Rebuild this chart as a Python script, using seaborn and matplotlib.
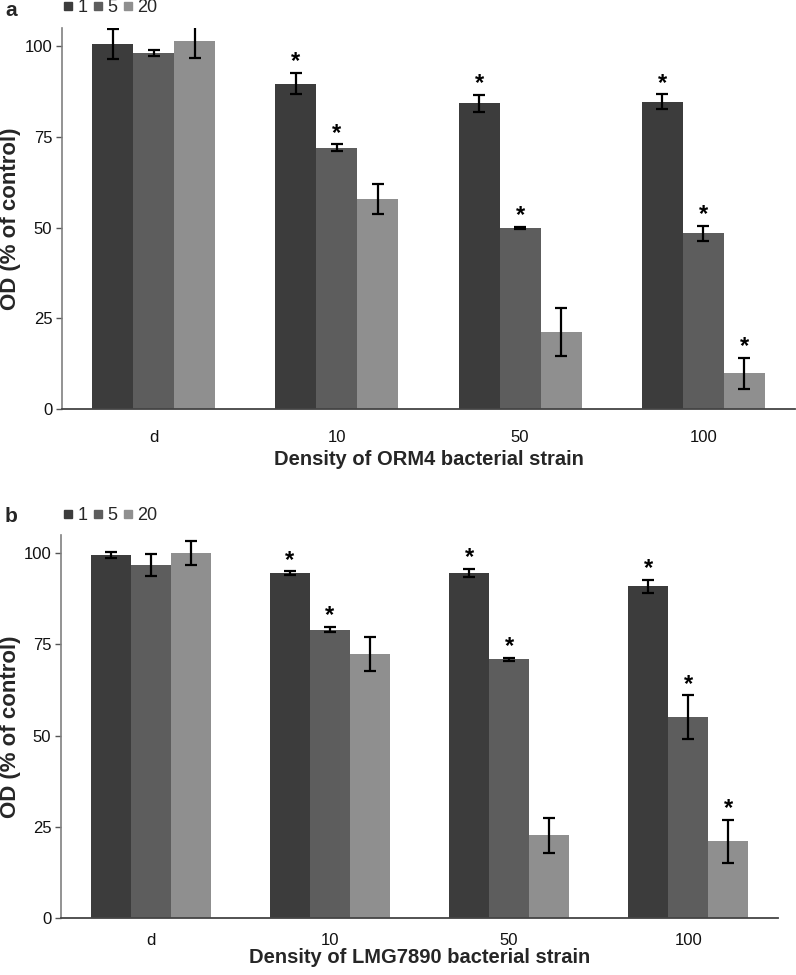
import numpy as np
import pandas as pd
import matplotlib
matplotlib.use("Agg")
import matplotlib.pyplot as plt
import seaborn as sns
from matplotlib.lines import Line2D

# ---- data ----
categories = ["d", "10", "50", "100"]
hue_levels = ["1", "5", "20"]

a_means = {"1": [100.5, 89.7, 84.2, 84.7],
           "5": [98.2, 72.0, 49.9, 48.4],
           "20": [101.5, 57.9, 21.2, 9.8]}
a_errs = {"1": [4.1, 3.0, 2.4, 2.0],
          "5": [0.8, 0.9, 0.3, 2.0],
          "20": [4.8, 4.1, 6.5, 4.3]}
a_sig = {"1": [False, True, True, True],
         "5": [False, True, True, True],
         "20": [False, False, False, True]}

b_means = {"1": [99.5, 94.5, 94.6, 90.9],
           "5": [96.8, 79.0, 70.9, 55.0],
           "20": [100.0, 72.3, 22.7, 21.0]}
b_errs = {"1": [0.8, 0.5, 1.1, 1.7],
          "5": [3.0, 0.7, 0.5, 6.0],
          "20": [3.3, 4.7, 4.8, 5.9]}
b_sig = {"1": [False, True, True, True],
         "5": [False, True, True, True],
         "20": [False, False, False, True]}

colors = ["#3c3c3c", "#5d5d5d", "#8f8f8f"]
yticks = [0, 25, 50, 75, 100]

sns.set_theme(style="white")
plt.rcParams["font.family"] = ["Liberation Sans", "DejaVu Sans"]

W, H = 796, 975
fig = plt.figure(figsize=(W / 100, H / 100), dpi=100)

panels = [
    dict(means=a_means, errs=a_errs, sig=a_sig, label="a",
         xlabel="Density of ORM4 bacterial strain",
         left=62, right=795, top=28, bottom=409, leg_y=8, lab_y=16,
         tpad=15, lpad=4),
    dict(means=b_means, errs=b_errs, sig=b_sig, label="b",
         xlabel="Density of LMG7890 bacterial strain",
         left=61, right=778, top=535, bottom=918, leg_y=516, lab_y=522,
         tpad=11, lpad=0),
]

for p in panels:
    rect = [p["left"] / W, 1 - p["bottom"] / H,
            (p["right"] - p["left"]) / W, (p["bottom"] - p["top"]) / H]
    ax = fig.add_axes(rect)
    rows = []
    for h in hue_levels:
        for c, m in zip(categories, p["means"][h]):
            rows.append({"cat": c, "hue": h, "val": m})
    df = pd.DataFrame(rows)
    sns.barplot(data=df, x="cat", y="val", hue="hue", order=categories,
                hue_order=hue_levels, palette=colors, width=0.67, gap=0,
                errorbar=None, saturation=1, legend=False, ax=ax,
                edgecolor="none", linewidth=0)
    for hi, (h, cont) in enumerate(zip(hue_levels, ax.containers)):
        for ci, bar in enumerate(cont):
            xc = bar.get_x() + bar.get_width() / 2
            top = bar.get_height()
            e = p["errs"][h][ci]
            ax.errorbar(xc, top, yerr=e, fmt="none", ecolor="black",
                        elinewidth=1.6, capsize=4.5, capthick=1.6, zorder=5)
            if p["sig"][h][ci]:
                ax.text(xc, top + e + 3.1, "*", ha="center", va="center",
                        fontsize=17, fontweight="bold", color="black")
    ax.set_xlim(-0.5, 3.5)
    ax.set_ylim(0, 105)
    ax.set_yticks(yticks)
    ax.set_yticklabels([str(v) for v in yticks], fontsize=12, color="#111111")
    ax.set_xticks(range(len(categories)))
    ax.set_xticklabels(categories, fontsize=12, color="#111111")
    ax.set_xticks([0.5, 1.5, 2.5, 3.5], minor=True)
    ax.tick_params(axis="x", which="major", length=0, pad=p["tpad"])
    ax.tick_params(axis="x", which="minor", length=5, width=1, color="#555555", direction="out")
    ax.tick_params(axis="y", which="major", length=4, width=1, color="#555555",
                   direction="out", left=True, pad=3)
    for s in ["top", "right"]:
        ax.spines[s].set_visible(False)
    ax.spines["left"].set_color("#808080")
    ax.spines["bottom"].set_color("#444444")
    ax.spines["left"].set_linewidth(1.2)
    ax.spines["bottom"].set_linewidth(1.3)
    ax.set_xlabel(p["xlabel"], fontsize=14.5, fontweight="bold", labelpad=p["lpad"])
    ax.set_ylabel("OD (% of control)", fontsize=16, fontweight="bold")
    axw = p["right"] - p["left"]
    ax.yaxis.set_label_coords((21.5 - p["left"]) / axw, 0.5)
    ax.grid(False)
    handles = [Line2D([0], [0], marker="s", linestyle="none", markersize=5.3,
                      markerfacecolor=c, markeredgecolor=c) for c in colors]
    ax.legend(handles, hue_levels, ncol=3, frameon=False, fontsize=13,
              loc="center left", bbox_to_anchor=(63 / W, 1 - p["leg_y"] / H),
              bbox_transform=fig.transFigure,
              handletextpad=0.2, columnspacing=0.3, handlelength=0.6,
              borderaxespad=0, borderpad=0)
    fig.text(5 / W, 1 - p["lab_y"] / H, p["label"], fontsize=15,
             fontweight="bold", ha="left", va="baseline")

fig.savefig("out.png", dpi=100)
